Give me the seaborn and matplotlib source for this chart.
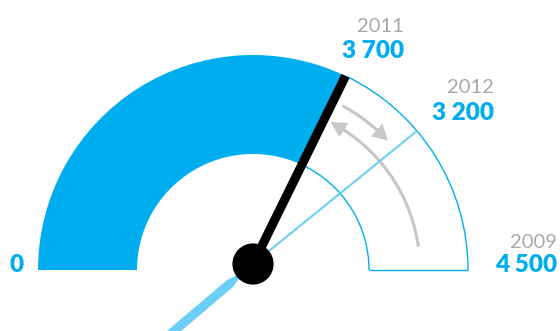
import numpy as np
import pandas as pd
import matplotlib
matplotlib.use("Agg")
import matplotlib.pyplot as plt
import seaborn as sns
from matplotlib.patches import Wedge, Arc, Polygon

# ---- data ----
years = ["2009", "2011", "2012"]
values = [4500, 3700, 3200]
value_labels = ["4 500", "3 700", "3 200"]
scale_min_label = "0"

sns.set_theme(style="white")
plt.rcParams['font.family'] = ['Lato', 'DejaVu Sans']

W, H = 560, 331
fig = plt.figure(figsize=(5.6, 3.31), dpi=100)
ax = fig.add_axes([0, 0, 1, 1])
ax.set_xlim(0, W)
ax.set_ylim(0, H)
ax.set_aspect('equal')
ax.axis('off')

BLUE = '#00AEEF'
LIGHT = '#6DCFF6'
GRAY = '#C8C8C8'
TGRAY = '#A7A9AC'

cx, cy = 253, H - 270
R, r = 215, 116
hx, hy = 253, H - 264

# illustrative dial positions (degrees) used by the infographic
dial_angle = {"2011": 64.5, "2012": 40.3}

def pol(rad, ang, ox=cx, oy=cy):
    a = np.deg2rad(ang)
    return ox + rad * np.cos(a), oy + rad * np.sin(a)

a11 = dial_angle["2011"]
a12 = dial_angle["2012"]

# filled part
ax.add_patch(Wedge((cx, cy), R, a11, 180, width=R - r, facecolor=BLUE, edgecolor='none', zorder=1))
# outline of remaining part
ax.add_patch(Arc((cx, cy), 2 * R, 2 * R, theta1=0, theta2=a11, color=BLUE, lw=1.0, zorder=2))
ax.add_patch(Arc((cx, cy), 2 * r, 2 * r, theta1=0, theta2=a11, color=BLUE, lw=1.0, zorder=2))
ax.plot([cx + r, cx + R], [cy, cy], color=BLUE, lw=1.0, zorder=2, solid_capstyle='butt')

# gray arrows
def arrow_head(rad, a_base, a_tip, hw):
    tip = pol(rad, a_tip)
    b1 = pol(rad - hw, a_base)
    b2 = pol(rad + hw, a_base)
    ax.add_patch(Polygon([tip, b1, b2], closed=True, facecolor=GRAY, edgecolor='none', zorder=3))

ax.add_patch(Arc((cx, cy), 2 * 187, 2 * 187, theta1=48, theta2=61.5, color=GRAY, lw=2.3, zorder=3))
arrow_head(187, 48.5, 43.8, 8.5)
ax.add_patch(Arc((cx, cy), 2 * 167, 2 * 167, theta1=8, theta2=57.5, color=GRAY, lw=2.3, zorder=3))
arrow_head(167, 57, 62.3, 8.5)

# light blue 2012 line
x2, y2 = pol(R, a12)
sns.lineplot(x=[hx, x2], y=[hy, y2], sort=False, color=LIGHT, lw=1.5, ax=ax, zorder=4)
u = np.array([np.cos(np.deg2rad(a12 + 180)), np.sin(np.deg2rad(a12 + 180))])
n = np.array([-u[1], u[0]])
h = np.array([hx, hy])
tail = [h + 15 * u + 0.8 * n, h + 30 * u + 4.6 * n, h + 160 * u + 4.6 * n,
        h + 160 * u - 4.6 * n, h + 30 * u - 4.6 * n, h + 15 * u - 0.8 * n]
ax.add_patch(Polygon(tail, closed=True, facecolor=LIGHT, edgecolor='none', zorder=4))

# black 2011 needle
x1, y1 = pol(R, a11)
sns.lineplot(x=[hx, x1], y=[hy, y1], sort=False, color='black', lw=6.5, ax=ax, zorder=5)
ax.lines[-1].set_solid_capstyle('butt')
sns.scatterplot(x=[hx], y=[hy], s=880, color='black', edgecolor='none', ax=ax, zorder=6)

# labels
lab = dict(zip(years, value_labels))
pos = {"2011": (404, 32, 58), "2012": (494, 93, 120), "2009": (557, 248, 272)}
for yr in ["2011", "2012", "2009"]:
    x, yb1, yb2 = pos[yr]
    ax.text(x, H - yb1, yr, ha='right', va='baseline', color=TGRAY, fontsize=14.5, fontweight='normal')
    ax.text(x, H - yb2, lab[yr], ha='right', va='baseline', color=BLUE, fontsize=17.5, fontweight='heavy')
ax.text(17, H - 272, scale_min_label, ha='center', va='baseline', color=BLUE, fontsize=17.5, fontweight='heavy')

if ax.get_legend():
    ax.get_legend().remove()
fig.savefig("out.png", dpi=100)
